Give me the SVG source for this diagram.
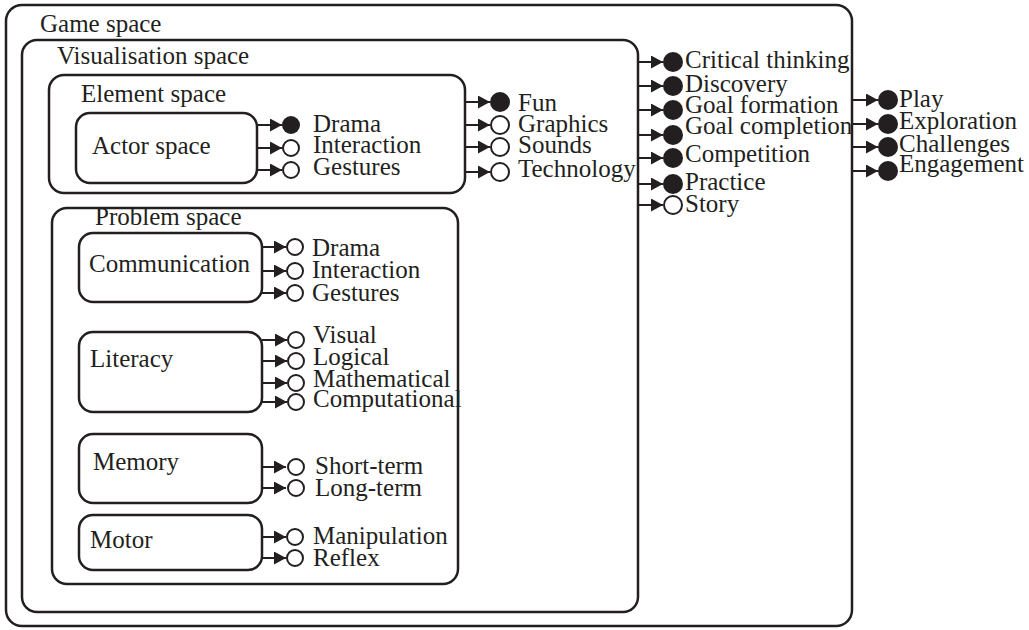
<svg xmlns="http://www.w3.org/2000/svg" width="1029" height="630" viewBox="0 0 1029 630">
<defs>
<marker id="ah" markerUnits="userSpaceOnUse" markerWidth="12" markerHeight="13" refX="12" refY="6.5" orient="auto">
<path d="M0,0L12,6.5L0,13Z" fill="#231f20"/>
</marker>
</defs>
<rect width="1029" height="630" fill="#fff"/>

<g id="game-space"><rect fill="none" stroke="#231f20" stroke-width="2.5" x="6" y="5" width="846" height="621" rx="16"/><text font-family="Liberation Serif" font-size="25" fill="#231f20" x="40" y="32">Game space</text></g>
<g id="visualisation-space"><rect fill="none" stroke="#231f20" stroke-width="2.5" x="22" y="40" width="616" height="572" rx="15"/><text font-family="Liberation Serif" font-size="25" fill="#231f20" x="57" y="64">Visualisation space</text></g>
<g id="element-space"><rect fill="none" stroke="#231f20" stroke-width="2.5" x="49" y="75" width="416" height="118" rx="15"/><text font-family="Liberation Serif" font-size="25" fill="#231f20" x="81" y="102">Element space</text></g>
<g id="actor-space"><rect fill="none" stroke="#231f20" stroke-width="2.5" x="76" y="113" width="181" height="70" rx="14"/><text font-family="Liberation Serif" font-size="25" fill="#231f20" x="92" y="154">Actor space</text></g>
<g id="problem-space"><rect fill="none" stroke="#231f20" stroke-width="2.5" x="52" y="208" width="406" height="376" rx="15"/><text font-family="Liberation Serif" font-size="25" fill="#231f20" x="95" y="225">Problem space</text></g>
<g id="communication"><rect fill="none" stroke="#231f20" stroke-width="2.5" x="79" y="233" width="183" height="69" rx="14"/><text font-family="Liberation Serif" font-size="25" fill="#231f20" x="89" y="272">Communication</text></g>
<g id="literacy"><rect fill="none" stroke="#231f20" stroke-width="2.5" x="79" y="332" width="183" height="80" rx="14"/><text font-family="Liberation Serif" font-size="25" fill="#231f20" x="90" y="367">Literacy</text></g>
<g id="memory"><rect fill="none" stroke="#231f20" stroke-width="2.5" x="79" y="434" width="183" height="69" rx="14"/><text font-family="Liberation Serif" font-size="25" fill="#231f20" x="93" y="470">Memory</text></g>
<g id="motor"><rect fill="none" stroke="#231f20" stroke-width="2.5" x="79" y="515" width="183" height="55" rx="14"/><text font-family="Liberation Serif" font-size="25" fill="#231f20" x="90" y="548">Motor</text></g>

<g id="connectors" stroke="#231f20" stroke-width="2" fill="none">
<path d="M257,125H282" marker-end="url(#ah)"/>
<path d="M257,148H282" marker-end="url(#ah)"/>
<path d="M257,170H282" marker-end="url(#ah)"/>
<path d="M465,102H490" marker-end="url(#ah)"/>
<path d="M465,125H490" marker-end="url(#ah)"/>
<path d="M465,147H490" marker-end="url(#ah)"/>
<path d="M465,172H490" marker-end="url(#ah)"/>
<path d="M638,62H663" marker-end="url(#ah)"/>
<path d="M638,86H663" marker-end="url(#ah)"/>
<path d="M638,110H663" marker-end="url(#ah)"/>
<path d="M638,135H663" marker-end="url(#ah)"/>
<path d="M638,158H663" marker-end="url(#ah)"/>
<path d="M638,184H663" marker-end="url(#ah)"/>
<path d="M638,205H663" marker-end="url(#ah)"/>
<path d="M852,100H878" marker-end="url(#ah)"/>
<path d="M852,124H878" marker-end="url(#ah)"/>
<path d="M852,147H878" marker-end="url(#ah)"/>
<path d="M852,171H878" marker-end="url(#ah)"/>
<path d="M262,247H286" marker-end="url(#ah)"/>
<path d="M262,271H286" marker-end="url(#ah)"/>
<path d="M262,293H286" marker-end="url(#ah)"/>
<path d="M262,340H287" marker-end="url(#ah)"/>
<path d="M262,361H287" marker-end="url(#ah)"/>
<path d="M262,383H287" marker-end="url(#ah)"/>
<path d="M262,402H287" marker-end="url(#ah)"/>
<path d="M262,467H286" marker-end="url(#ah)"/>
<path d="M262,488H286" marker-end="url(#ah)"/>
<path d="M262,537H286" marker-end="url(#ah)"/>
<path d="M262,558H286" marker-end="url(#ah)"/>
</g>

<g id="actor-drama"><circle fill="#231f20" cx="291" cy="125" r="9"/><text font-family="Liberation Serif" font-size="25" fill="#231f20" x="313" y="132">Drama</text></g>
<g id="actor-interaction"><circle fill="#fff" stroke="#231f20" stroke-width="2" cx="291" cy="148" r="8"/><text font-family="Liberation Serif" font-size="25" fill="#231f20" x="313" y="153">Interaction</text></g>
<g id="actor-gestures"><circle fill="#fff" stroke="#231f20" stroke-width="2" cx="291" cy="170" r="8"/><text font-family="Liberation Serif" font-size="25" fill="#231f20" x="313" y="175">Gestures</text></g>

<g id="fun"><circle fill="#231f20" cx="500" cy="102" r="10"/><text font-family="Liberation Serif" font-size="25" fill="#231f20" x="518" y="111">Fun</text></g>
<g id="graphics"><circle fill="#fff" stroke="#231f20" stroke-width="2" cx="500" cy="125" r="9"/><text font-family="Liberation Serif" font-size="25" fill="#231f20" x="518" y="132">Graphics</text></g>
<g id="sounds"><circle fill="#fff" stroke="#231f20" stroke-width="2" cx="500" cy="147" r="9"/><text font-family="Liberation Serif" font-size="25" fill="#231f20" x="518" y="153">Sounds</text></g>
<g id="technology"><circle fill="#fff" stroke="#231f20" stroke-width="2" cx="500" cy="172" r="9"/><text font-family="Liberation Serif" font-size="25" fill="#231f20" x="518" y="177">Technology</text></g>

<g id="critical-thinking"><circle fill="#231f20" cx="673" cy="62" r="10"/><text font-family="Liberation Serif" font-size="25" fill="#231f20" x="685" y="68">Critical thinking</text></g>
<g id="discovery"><circle fill="#231f20" cx="673" cy="86" r="10"/><text font-family="Liberation Serif" font-size="25" fill="#231f20" x="685" y="92">Discovery</text></g>
<g id="goal-formation"><circle fill="#231f20" cx="673" cy="110" r="10"/><text font-family="Liberation Serif" font-size="25" fill="#231f20" x="685" y="113">Goal formation</text></g>
<g id="goal-completion"><circle fill="#231f20" cx="673" cy="135" r="10"/><text font-family="Liberation Serif" font-size="25" fill="#231f20" x="685" y="134">Goal completion</text></g>
<g id="competition"><circle fill="#231f20" cx="673" cy="158" r="10"/><text font-family="Liberation Serif" font-size="25" fill="#231f20" x="685" y="162">Competition</text></g>
<g id="practice"><circle fill="#231f20" cx="673" cy="184" r="10"/><text font-family="Liberation Serif" font-size="25" fill="#231f20" x="685" y="190">Practice</text></g>
<g id="story"><circle fill="#fff" stroke="#231f20" stroke-width="2" cx="673" cy="205" r="9"/><text font-family="Liberation Serif" font-size="25" fill="#231f20" x="685" y="212">Story</text></g>

<g id="play"><circle fill="#231f20" cx="888" cy="100" r="10"/><text font-family="Liberation Serif" font-size="25" fill="#231f20" x="899" y="107">Play</text></g>
<g id="exploration"><circle fill="#231f20" cx="888" cy="124" r="10"/><text font-family="Liberation Serif" font-size="25" fill="#231f20" x="899" y="129">Exploration</text></g>
<g id="challenges"><circle fill="#231f20" cx="888" cy="147" r="10"/><text font-family="Liberation Serif" font-size="25" fill="#231f20" x="899" y="152">Challenges</text></g>
<g id="engagement"><circle fill="#231f20" cx="888" cy="171" r="10"/><text font-family="Liberation Serif" font-size="25" fill="#231f20" x="899" y="172">Engagement</text></g>

<g id="comm-drama"><circle fill="#fff" stroke="#231f20" stroke-width="2" cx="295" cy="247" r="8"/><text font-family="Liberation Serif" font-size="25" fill="#231f20" x="312" y="256">Drama</text></g>
<g id="comm-interaction"><circle fill="#fff" stroke="#231f20" stroke-width="2" cx="295" cy="271" r="8"/><text font-family="Liberation Serif" font-size="25" fill="#231f20" x="312" y="278">Interaction</text></g>
<g id="comm-gestures"><circle fill="#fff" stroke="#231f20" stroke-width="2" cx="295" cy="293" r="8"/><text font-family="Liberation Serif" font-size="25" fill="#231f20" x="312" y="301">Gestures</text></g>

<g id="visual"><circle fill="#fff" stroke="#231f20" stroke-width="2" cx="296" cy="340" r="8"/><text font-family="Liberation Serif" font-size="25" fill="#231f20" x="313" y="343">Visual</text></g>
<g id="logical"><circle fill="#fff" stroke="#231f20" stroke-width="2" cx="296" cy="361" r="8"/><text font-family="Liberation Serif" font-size="25" fill="#231f20" x="313" y="365">Logical</text></g>
<g id="mathematical"><circle fill="#fff" stroke="#231f20" stroke-width="2" cx="296" cy="383" r="8"/><text font-family="Liberation Serif" font-size="25" fill="#231f20" x="313" y="387">Mathematical</text></g>
<g id="computational"><circle fill="#fff" stroke="#231f20" stroke-width="2" cx="296" cy="402" r="8"/><text font-family="Liberation Serif" font-size="25" fill="#231f20" x="313" y="407">Computational</text></g>

<g id="short-term"><circle fill="#fff" stroke="#231f20" stroke-width="2" cx="296" cy="467" r="8"/><text font-family="Liberation Serif" font-size="25" fill="#231f20" x="315" y="474">Short-term</text></g>
<g id="long-term"><circle fill="#fff" stroke="#231f20" stroke-width="2" cx="296" cy="488" r="8"/><text font-family="Liberation Serif" font-size="25" fill="#231f20" x="315" y="496">Long-term</text></g>

<g id="manipulation"><circle fill="#fff" stroke="#231f20" stroke-width="2" cx="295" cy="537" r="8"/><text font-family="Liberation Serif" font-size="25" fill="#231f20" x="313" y="544">Manipulation</text></g>
<g id="reflex"><circle fill="#fff" stroke="#231f20" stroke-width="2" cx="295" cy="558" r="8"/><text font-family="Liberation Serif" font-size="25" fill="#231f20" x="313" y="566">Reflex</text></g>
</svg>
